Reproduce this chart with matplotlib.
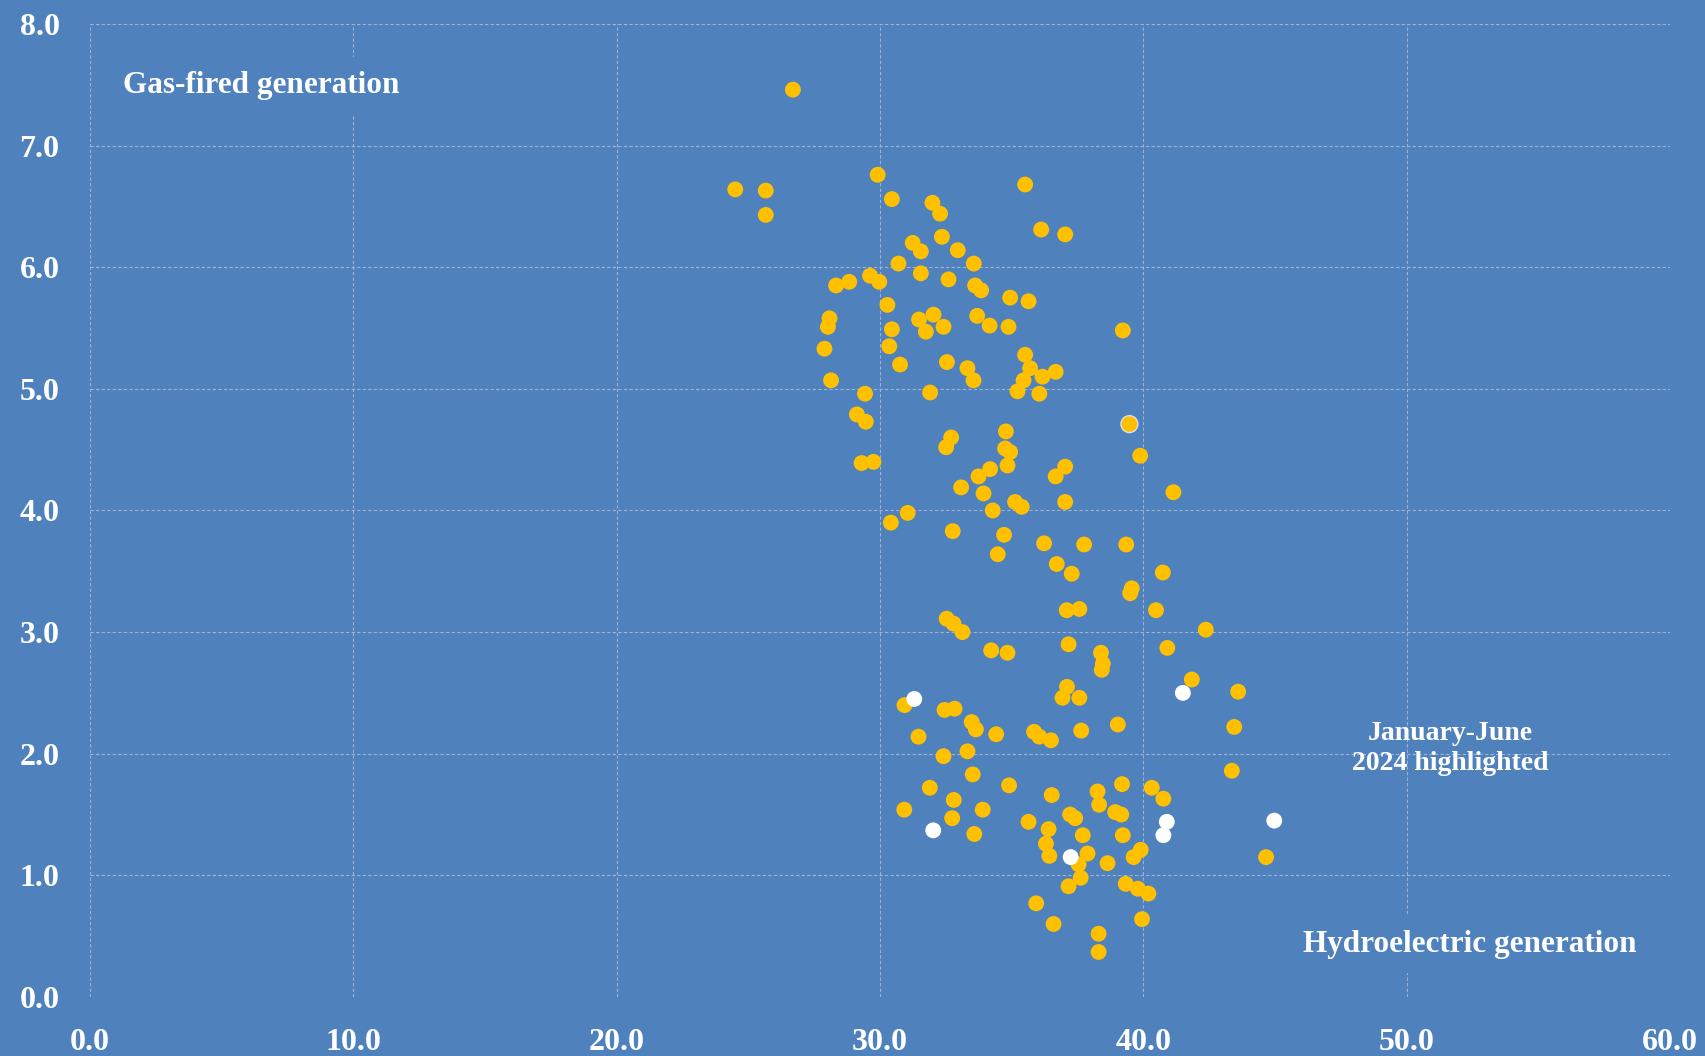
import matplotlib
matplotlib.use("Agg")
import matplotlib.pyplot as plt

# Hydro share (x, %) vs gas share (y, %)
hist_x = [
    26.69, 24.5, 25.66, 25.66, 29.91, 30.45, 31.99, 32.28, 35.51, 36.12, 37.03,
    32.35, 31.24, 31.55, 32.95, 33.56, 30.7, 31.55, 32.6, 29.62, 29.97, 28.33,
    28.83, 33.61, 33.84, 34.94, 35.64, 30.28, 28.08, 28.02, 31.48, 31.74, 32.03,
    32.41, 33.69, 34.16, 34.88, 30.45, 39.22, 27.89, 30.35, 30.76, 32.54, 33.32,
    33.55, 35.51, 35.7, 35.45, 36.17, 36.67, 35.22, 36.05, 28.14, 29.43, 31.9,
    29.12, 29.46, 32.7, 32.51, 29.3, 29.75, 34.78, 34.75, 34.94, 34.84, 34.18,
    33.74, 33.08, 33.93, 34.28, 31.05, 30.41, 32.76, 34.71, 34.47, 32.53, 32.79,
    33.13, 34.22, 34.84, 39.88, 41.14, 37.03, 36.67, 37.03, 35.13, 35.38, 36.23,
    37.75, 39.35, 36.71, 37.28, 40.74, 39.56, 39.5, 37.09, 37.57, 40.48, 42.37,
    37.16, 40.91, 38.39, 38.46, 38.42, 41.84, 43.6, 37.1, 36.93, 37.57, 43.45,
    35.85, 36.05, 36.49, 37.64, 39.03, 43.36, 34.9, 36.52, 38.26, 38.32, 39.19,
    40.32, 40.76, 37.22, 37.41, 38.93, 39.16, 35.64, 36.4, 37.7, 39.22, 36.3,
    36.43, 37.88, 37.54, 38.64, 39.63, 39.9, 44.66, 37.62, 37.16, 39.33, 39.79,
    40.19, 35.93, 39.95, 36.59, 38.3, 38.3, 30.93, 32.45, 32.83, 33.48, 33.64,
    34.41, 31.46, 32.41, 33.32, 33.52, 31.89, 32.8, 30.92, 33.9, 32.74, 33.58,
]
hist_y = [
    7.46, 6.64, 6.63, 6.43, 6.76, 6.56, 6.53, 6.44, 6.68, 6.31, 6.27,
    6.25, 6.20, 6.13, 6.14, 6.03, 6.03, 5.95, 5.90, 5.93, 5.88, 5.85,
    5.88, 5.85, 5.81, 5.75, 5.72, 5.69, 5.58, 5.51, 5.57, 5.47, 5.61,
    5.51, 5.60, 5.52, 5.51, 5.49, 5.48, 5.33, 5.35, 5.20, 5.22, 5.17,
    5.07, 5.28, 5.17, 5.07, 5.10, 5.14, 4.98, 4.96, 5.07, 4.96, 4.97,
    4.79, 4.73, 4.60, 4.52, 4.39, 4.40, 4.65, 4.51, 4.48, 4.37, 4.34,
    4.28, 4.19, 4.14, 4.00, 3.98, 3.90, 3.83, 3.80, 3.64, 3.11, 3.07,
    3.00, 2.85, 2.83, 4.45, 4.15, 4.36, 4.28, 4.07, 4.07, 4.03, 3.73,
    3.72, 3.72, 3.56, 3.48, 3.49, 3.36, 3.32, 3.18, 3.19, 3.18, 3.02,
    2.90, 2.87, 2.83, 2.74, 2.69, 2.61, 2.51, 2.55, 2.46, 2.46, 2.22,
    2.18, 2.14, 2.11, 2.19, 2.24, 1.86, 1.74, 1.66, 1.69, 1.58, 1.75,
    1.72, 1.63, 1.50, 1.47, 1.52, 1.50, 1.44, 1.38, 1.33, 1.33, 1.26,
    1.16, 1.18, 1.09, 1.10, 1.15, 1.21, 1.15, 0.98, 0.91, 0.93, 0.89,
    0.85, 0.77, 0.64, 0.60, 0.52, 0.37, 2.40, 2.36, 2.37, 2.26, 2.20,
    2.16, 2.14, 1.98, 2.02, 1.83, 1.72, 1.62, 1.54, 1.54, 1.47, 1.34,
]

# January-June 2024 (white)
jj24_x = [31.3, 41.5, 32.02, 40.89, 40.76, 44.97, 37.24]
jj24_y = [2.45, 2.50, 1.37, 1.44, 1.33, 1.45, 1.15]

# one point that shows a white ring (2024 point hidden under a yellow one)
ringed_x = [39.47]
ringed_y = [4.71]

x_ticks = [0, 10, 20, 30, 40, 50, 60]
y_ticks = [0, 1, 2, 3, 4, 5, 6, 7, 8]

BLUE = "#4F81BD"
GOLD = "#FFC000"
GRID = "#9FB3D0"

fig = plt.figure(figsize=(17.06, 10.56), dpi=100, facecolor=BLUE)
ax = fig.add_axes([0.0528, 0.0559, 0.9261, 0.9214], facecolor=BLUE)

ax.set_xlim(0, 60)
ax.set_ylim(0, 8)
ax.set_xticks(x_ticks)
ax.set_yticks(y_ticks)
ax.set_xticklabels([f"{v:.1f}" for v in x_ticks])
ax.set_yticklabels([f"{v:.1f}" for v in y_ticks])
for lab in ax.get_xticklabels() + ax.get_yticklabels():
    lab.set_fontfamily("Liberation Serif")
    lab.set_fontweight("bold")
    lab.set_fontsize(23)
    lab.set_color("white")
ax.tick_params(axis="both", length=0)
ax.tick_params(axis="x", pad=22)
ax.tick_params(axis="y", pad=22)

for s in ax.spines.values():
    s.set_visible(False)
ax.grid(True, color=GRID, linewidth=0.8, linestyle=(0, (3, 2)), zorder=0)
ax.set_axisbelow(True)

ax.scatter(hist_x, hist_y, s=130, color=GOLD, edgecolors="none", zorder=3)
ax.scatter(ringed_x, ringed_y, s=175, color="#D9DDE6", edgecolors="none", zorder=3)
ax.scatter(ringed_x, ringed_y, s=125, color=GOLD, edgecolors="none", zorder=4)
ax.scatter(jj24_x, jj24_y, s=130, color="white", edgecolors="none", zorder=5)

label_style = dict(color="white", fontfamily="Liberation Serif", fontweight="bold")
box = dict(boxstyle="square,pad=0.45", facecolor=BLUE, edgecolor="none")

ax.text(1.25, 7.49, "Gas-fired generation", fontsize=22.5, ha="left", va="center",
        bbox=box, zorder=2, **label_style)
ax.text(52.4, 0.43, "Hydroelectric generation", fontsize=22.5, ha="center", va="center",
        bbox=box, zorder=2, **label_style)
ax.text(51.65, 2.04, "January-June\n2024 highlighted", fontsize=20, ha="center",
        va="center", linespacing=1.25, zorder=2, **label_style)

fig.savefig("out.png", dpi=100, facecolor=BLUE)
